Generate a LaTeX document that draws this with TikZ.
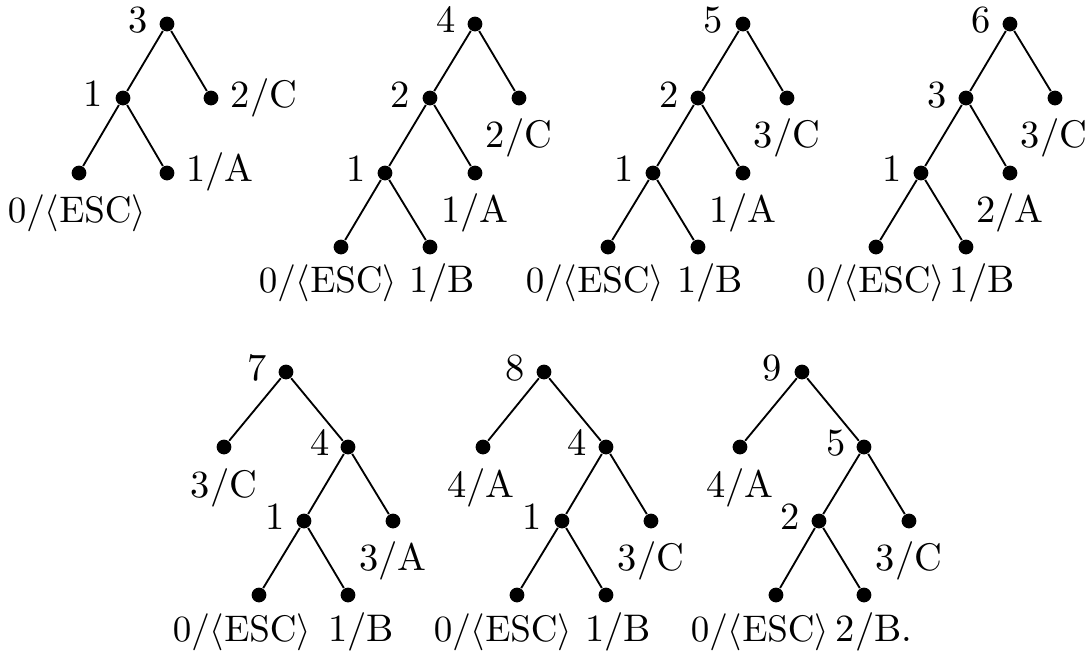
\documentclass[tikz,border=0pt]{standalone}
\begin{document}
\begin{tikzpicture}[x=0.27027pt,y=-0.27027pt,
  dot/.style={circle,fill=black,draw=none,inner sep=0pt,minimum size=4pt},
  lab/.style={anchor=base,inner sep=0pt,font=\fontsize{10.4}{12.5}\selectfont},
  edge/.style={line width=0.5pt}]
\useasboundingbox (0,0) rectangle (1092,658);
% ---------- Tree 1
\node[dot] (t1r) at (167,24) {};
\node[dot] (t1a) at (123,98) {};
\node[dot] (t1b) at (211,98) {};
\node[dot] (t1c) at (79,173) {};
\node[dot] (t1d) at (167,173) {};
\draw[edge] (t1r) -- (t1a); \draw[edge] (t1r) -- (t1b);
\draw[edge] (t1a) -- (t1c); \draw[edge] (t1a) -- (t1d);
\node[lab] (l1r) at (138,32) {3};
\node[lab] (l1a) at (93,106) {1};
\node[lab] (l1b) at (264,107) {2/C};
\node[lab] (l1d) at (220,181) {1/A};
\node[lab] (l1c) at (77,222) {$0/\langle\mathrm{ESC}\rangle$};
% ---------- Tree 2
\node[dot] (t2r) at (475,24) {};
\node[dot] (t2a) at (430,98) {};
\node[dot] (t2b) at (519,98) {};
\node[dot] (t2c) at (385,173) {};
\node[dot] (t2d) at (475,173) {};
\node[dot] (t2e) at (341,247) {};
\node[dot] (t2f) at (430,247) {};
\draw[edge] (t2r) -- (t2a); \draw[edge] (t2r) -- (t2b);
\draw[edge] (t2a) -- (t2c); \draw[edge] (t2a) -- (t2d);
\draw[edge] (t2c) -- (t2e); \draw[edge] (t2c) -- (t2f);
\node[lab] (l2r) at (446,32) {4};
\node[lab] (l2a) at (400,107) {2};
\node[lab] (l2b) at (519,147) {2/C};
\node[lab] (l2c) at (356,181) {1};
\node[lab] (l2d) at (475,222) {1/A};
\node[lab] (l2e) at (328,292) {$0/\langle\mathrm{ESC}\rangle$};
\node[lab] (l2f) at (442,292) {1/B};
% ---------- Tree 3
\node[dot] (t3r) at (743,24) {};
\node[dot] (t3a) at (698,98) {};
\node[dot] (t3b) at (787,98) {};
\node[dot] (t3c) at (653,173) {};
\node[dot] (t3d) at (743,173) {};
\node[dot] (t3e) at (608,247) {};
\node[dot] (t3f) at (698,247) {};
\draw[edge] (t3r) -- (t3a); \draw[edge] (t3r) -- (t3b);
\draw[edge] (t3a) -- (t3c); \draw[edge] (t3a) -- (t3d);
\draw[edge] (t3c) -- (t3e); \draw[edge] (t3c) -- (t3f);
\node[lab] (l3r) at (713,32) {5};
\node[lab] (l3a) at (669,107) {2};
\node[lab] (l3b) at (787,147) {3/C};
\node[lab] (l3c) at (624,181) {1};
\node[lab] (l3d) at (743,222) {1/A};
\node[lab] (l3e) at (595,292) {$0/\langle\mathrm{ESC}\rangle$};
\node[lab] (l3f) at (710,292) {1/B};
% ---------- Tree 4
\node[dot] (t4r) at (1010,24) {};
\node[dot] (t4a) at (966,98) {};
\node[dot] (t4b) at (1055,98) {};
\node[dot] (t4c) at (921,173) {};
\node[dot] (t4d) at (1010,173) {};
\node[dot] (t4e) at (876,247) {};
\node[dot] (t4f) at (966,247) {};
\draw[edge] (t4r) -- (t4a); \draw[edge] (t4r) -- (t4b);
\draw[edge] (t4a) -- (t4c); \draw[edge] (t4a) -- (t4d);
\draw[edge] (t4c) -- (t4e); \draw[edge] (t4c) -- (t4f);
\node[lab] (l4r) at (981,32) {6};
\node[lab] (l4a) at (937,107) {3};
\node[lab] (l4b) at (1054,147) {3/C};
\node[lab] (l4c) at (892,181) {1};
\node[lab] (l4d) at (1010,222) {2/A};
\node[lab] (l4e) at (876,292) {$0/\langle\mathrm{ESC}\rangle$};
\node[lab] (l4f) at (982,292) {1/B};
% ---------- Tree 5
\node[dot] (t5r) at (286,372) {};
\node[dot] (t5b) at (224,447) {};
\node[dot] (t5a) at (348,447) {};
\node[dot] (t5c) at (304,521) {};
\node[dot] (t5d) at (393,521) {};
\node[dot] (t5e) at (259,595) {};
\node[dot] (t5f) at (348,595) {};
\draw[edge] (t5r) -- (t5b); \draw[edge] (t5r) -- (t5a);
\draw[edge] (t5a) -- (t5c); \draw[edge] (t5a) -- (t5d);
\draw[edge] (t5c) -- (t5e); \draw[edge] (t5c) -- (t5f);
\node[lab] (l5r) at (257,380) {7};
\node[lab] (l5b) at (224,497) {3/C};
\node[lab] (l5a) at (320,455) {4};
\node[lab] (l5c) at (275,529) {1};
\node[lab] (l5d) at (393,570) {3/A};
\node[lab] (l5e) at (242,641) {$0/\langle\mathrm{ESC}\rangle$};
\node[lab] (l5f) at (361,641) {1/B};
% ---------- Tree 6
\node[dot] (t6r) at (544,372) {};
\node[dot] (t6b) at (483,447) {};
\node[dot] (t6a) at (606,447) {};
\node[dot] (t6c) at (562,521) {};
\node[dot] (t6d) at (651,521) {};
\node[dot] (t6e) at (517,595) {};
\node[dot] (t6f) at (606,595) {};
\draw[edge] (t6r) -- (t6b); \draw[edge] (t6r) -- (t6a);
\draw[edge] (t6a) -- (t6c); \draw[edge] (t6a) -- (t6d);
\draw[edge] (t6c) -- (t6e); \draw[edge] (t6c) -- (t6f);
\node[lab] (l6r) at (515,380) {8};
\node[lab] (l6b) at (481,497) {4/A};
\node[lab] (l6a) at (577,455) {4};
\node[lab] (l6c) at (532,529) {1};
\node[lab] (l6d) at (651,570) {3/C};
\node[lab] (l6e) at (503,641) {$0/\langle\mathrm{ESC}\rangle$};
\node[lab] (l6f) at (618,641) {1/B};
% ---------- Tree 7
\node[dot] (t7r) at (802,372) {};
\node[dot] (t7b) at (740,447) {};
\node[dot] (t7a) at (864,447) {};
\node[dot] (t7c) at (819,521) {};
\node[dot] (t7d) at (909,521) {};
\node[dot] (t7e) at (776,595) {};
\node[dot] (t7f) at (864,595) {};
\draw[edge] (t7r) -- (t7b); \draw[edge] (t7r) -- (t7a);
\draw[edge] (t7a) -- (t7c); \draw[edge] (t7a) -- (t7d);
\draw[edge] (t7c) -- (t7e); \draw[edge] (t7c) -- (t7f);
\node[lab] (l7r) at (772,380) {9};
\node[lab] (l7b) at (740,497) {4/A};
\node[lab] (l7a) at (836,455) {5};
\node[lab] (l7c) at (790,529) {2};
\node[lab] (l7d) at (909,570) {3/C};
\node[lab] (l7e) at (760,641) {$0/\langle\mathrm{ESC}\rangle$};
\node[lab] (l7f) at (874,641) {2/B.};
\end{tikzpicture}
\end{document}
